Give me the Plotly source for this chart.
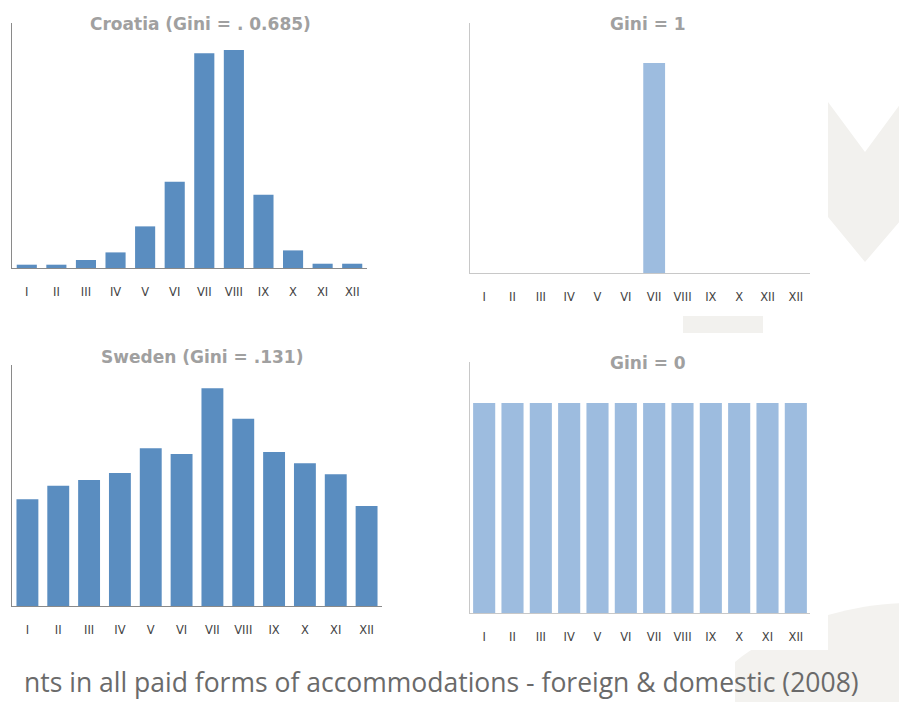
import plotly.graph_objects as go

# browser body margin offset (page draws the figure at 8px,8px)
OFF = 8
W, H = 907 - OFF, 702 - OFF

months = ["I", "II", "III", "IV", "V", "VI", "VII", "VIII", "IX", "X", "XI", "XII"]
gini1_labels = ["I", "II", "III", "IV", "V", "VI", "VII", "VIII", "IX", "X", "XII", "XII"]

croatia = [0.48, 0.48, 1.16, 2.26, 6.03, 12.5, 31.1, 31.6, 10.6, 2.55, 0.62, 0.62]
sweden = [6.17, 6.96, 7.29, 7.69, 9.12, 8.79, 12.59, 10.83, 8.91, 8.25, 7.62, 5.78]
gini_one = [0, 0, 0, 0, 0, 0, 100, 0, 0, 0, 0, 0]
gini_zero = [8.33] * 12

titles = ["Croatia (Gini = . 0.685)", "Gini = 1", "Sweden (Gini = .131)", "Gini = 0"]
caption = "nts in all paid forms of accommodations - foreign & domestic (2008)"

def px(x):
    return (x - OFF) / W

def py(y):
    return 1 - (y - OFF) / H

# panel geometry in screen pixels: (left, right, top, bottom)
panels = [
    (12, 367, 23, 268),
    (470, 810, 23, 273),
    (12, 382, 365, 606),
    (470, 810, 362, 613),
]
series = [croatia, gini_one, sweden, gini_zero]
labels = [months, gini1_labels, months, months]
colors = ["#5a8dc0", "#9dbcdf", "#5a8dc0", "#9dbcdf"]
ymax = [35.5, 119, 13.94, 9.96]
gaps = [0.32, 0.23, 0.29, 0.22]
axcol = ["#8a8a8a", "#c8c8c8", "#8a8a8a", "#c8c8c8"]
title_y = [24, 24, 357, 363]
title_x = [200, 648, 202, 648]

fig = go.Figure()

shapes = [
    dict(type="path", xref="paper", yref="paper",
         path=f"M {px(907)},{py(603)} C {px(850)},{py(603)} {px(780)},{py(625)} {px(735)},{py(662)} L {px(735)},{py(702)} L {px(907)},{py(702)} Z",
         fillcolor="#f3f2ef", line=dict(width=0), layer="below"),
    dict(type="rect", xref="paper", yref="paper", x0=px(0), x1=px(828), y0=py(650), y1=py(0),
         fillcolor="white", line=dict(width=0), layer="below"),
    dict(type="path", xref="paper", yref="paper",
         path=(f"M {px(828)},{py(102)} L {px(865)},{py(152)} L {px(907)},{py(95)} "
               f"L {px(907)},{py(213)} L {px(865)},{py(262)} L {px(828)},{py(217)} Z"),
         fillcolor="#f2f1ee", line=dict(width=0), layer="below"),
    dict(type="rect", xref="paper", yref="paper", x0=px(683), x1=px(763), y0=py(333), y1=py(316),
         fillcolor="#f2f1ee", line=dict(width=0), layer="below"),
]

annotations = []
for i in range(4):
    l, r, t, b = panels[i]
    xa = "x" if i == 0 else f"x{i+1}"
    ya = "y" if i == 0 else f"y{i+1}"
    fig.add_trace(go.Bar(x=list(range(12)), y=series[i], width=1 - gaps[i],
                         marker=dict(color=colors[i], line=dict(width=0)),
                         xaxis=xa, yaxis=ya, showlegend=False, hoverinfo="y"))
    xkey = "xaxis" if i == 0 else f"xaxis{i+1}"
    ykey = "yaxis" if i == 0 else f"yaxis{i+1}"
    fig.layout[xkey] = dict(domain=[px(l), px(r)], anchor=ya, range=[-0.5, 11.5],
                            tickvals=list(range(12)), ticktext=labels[i],
                            showline=True, linecolor=axcol[i], linewidth=1,
                            ticks="outside", ticklen=13, tickcolor="rgba(0,0,0,0)",
                            showgrid=False, zeroline=False, fixedrange=True,
                            tickfont=dict(family="DejaVu Sans", size=11.5, color="#444"))
    fig.layout[ykey] = dict(domain=[py(b), py(t)], anchor=xa, range=[0, ymax[i]],
                            showline=True, linecolor=axcol[i], linewidth=1,
                            showticklabels=False, ticks="", showgrid=False, zeroline=False, fixedrange=True)
    annotations.append(dict(text=f"<b>{titles[i]}</b>", xref="paper", yref="paper",
                            x=px(title_x[i]), y=py(title_y[i]), xanchor="center", yanchor="middle",
                            showarrow=False,
                            font=dict(family="DejaVu Sans", size=17, color="#a0a0a0")))

annotations.append(dict(text=caption, xref="paper", yref="paper", x=px(441), y=py(701),
                        xanchor="center", yanchor="bottom", showarrow=False, borderpad=0,
                        font=dict(family="Open Sans", size=26.5, color="#6a6a6a")))

fig.update_layout(width=W, height=H, margin=dict(l=0, r=0, t=0, b=0),
                  paper_bgcolor="white", plot_bgcolor="rgba(0,0,0,0)",
                  shapes=shapes, annotations=annotations)

fig.write_html("out.html", config={"displayModeBar": False})
